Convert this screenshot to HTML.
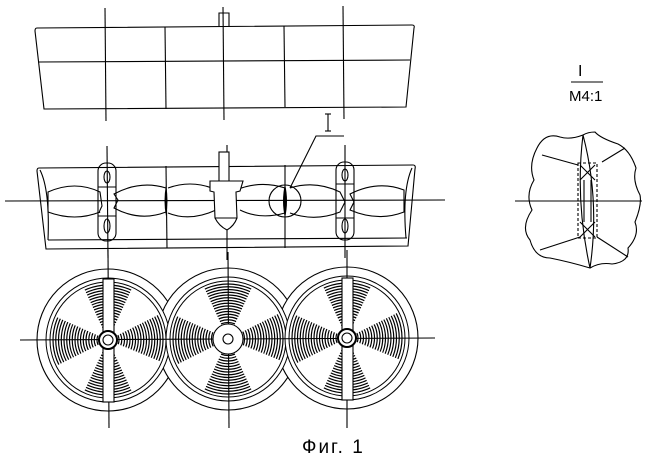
<!DOCTYPE html>
<html><head><meta charset="utf-8"><style>
html,body{margin:0;padding:0;background:#fff;width:646px;height:461px;overflow:hidden}
svg{display:block}
text{font-family:"Liberation Sans",sans-serif;fill:#000}
</style></head><body>
<svg width="646" height="461" viewBox="0 0 646 461" xmlns="http://www.w3.org/2000/svg">
<defs>
<g id="rings" fill="none" stroke="#000" stroke-width="1.2">
<circle r="11"/><circle r="13.75"/><circle r="16.5"/><circle r="19.25"/><circle r="22"/><circle r="24.75"/><circle r="27.5"/><circle r="30.25"/><circle r="33"/><circle r="35.75"/><circle r="38.5"/><circle r="41.25"/><circle r="44"/><circle r="46.75"/><circle r="49.5"/><circle r="52.25"/><circle r="55"/>
</g>
<clipPath id="blades">
<path d="M0 0 L-26 -56 L26 -56 Z"/>
<path d="M0 0 L-26 56 L26 56 Z"/>
<path d="M0 0 L56 -28 L56 23 Z"/>
<path d="M0 0 L-56 -25 L-56 28 Z"/>
</clipPath>
<g id="wheelbase">
<circle r="62" fill="#fff" stroke="#000" stroke-width="1"/>
<circle r="58" fill="none" stroke="#000" stroke-width="1"/>
<g clip-path="url(#blades)"><use href="#rings"/></g>
</g>
</defs>
<g fill="none" stroke="#000" stroke-width="1.1">
<path d="M37 28 L412 25 Q415 25 414 28 L406 107 L44 109 L35 31 Q35 28 37 28 Z"/>
<line x1="38" y1="62" x2="410" y2="60"/>
<line x1="105" y1="8" x2="106" y2="121"/>
<line x1="165" y1="27" x2="166" y2="109"/>
<line x1="223" y1="7" x2="224" y2="120"/>
<line x1="284" y1="26" x2="285" y2="107"/>
<line x1="343" y1="6" x2="344" y2="119"/>
<path d="M219 26 L219 13 L229 13 L229 26"/>
<line x1="328" y1="114" x2="328" y2="131"/><line x1="325" y1="114" x2="331" y2="114"/><line x1="325" y1="131" x2="331" y2="131"/>
<path d="M344 136 L316 136 L290 188"/>
<path d="M39 168 L413 165 Q416 165 415 169 L408 246 L46 249 L37 171 Q37 168 39 168 Z"/>
<line x1="48" y1="240" x2="407" y2="238"/>
<path d="M40 170 Q50 190 48 240"/><path d="M412 168 Q402 190 406 238"/>
<line x1="5" y1="201" x2="445" y2="200"/>
<line x1="107" y1="146" x2="108" y2="258"/>
<line x1="166" y1="166" x2="167" y2="248"/>
<line x1="227" y1="145" x2="227" y2="260"/>
<line x1="285" y1="165" x2="285" y2="248"/>
<line x1="345" y1="145" x2="345" y2="258"/>
<path d="M48 192 Q75 180 100 192 L102 206 Q98 214 100 212 Q75 222 48 212 Z"/>
<path d="M114 194 Q140 180 166 188 L166 212 Q140 222 114 208 L118 200 Z"/>
<path d="M168 188 Q190 180 212 188 M168 213 Q190 222 216 210"/>
<path d="M236 190 Q260 180 285 188 L285 213 Q260 220 240 210"/>
<path d="M290 188 Q315 180 340 192 L345 202 L340 212 Q315 222 290 213"/>
<path d="M350 194 Q378 180 404 190 L404 212 Q378 222 350 210 L354 202 Z"/>
<rect x="98" y="163" width="18" height="78" rx="8"/>
<ellipse cx="107" cy="177" rx="3" ry="6"/><ellipse cx="107" cy="226" rx="3" ry="7"/>
<line x1="98" y1="187" x2="116" y2="187"/><line x1="98" y1="216" x2="116" y2="216"/>
<rect x="336" y="162" width="18" height="78" rx="8"/>
<ellipse cx="345" cy="175" rx="3" ry="6"/><ellipse cx="345" cy="226" rx="3" ry="7"/>
<line x1="336" y1="184" x2="354" y2="184"/><line x1="336" y1="218" x2="354" y2="218"/>
<rect x="219" y="152" width="10" height="30" fill="#fff"/>
<path d="M210 181 L243 181 L240 191 L236 192 L237 218 Q234 226 227 230 Q219 226 215 218 L214 192 L210 191 Z" fill="#fff"/>
<line x1="215" y1="218" x2="237" y2="218"/>
<circle cx="285" cy="201" r="16"/>
</g>
<g fill="#000">
<path d="M166 185 Q169 201 166 216 Q163 201 166 185Z"/>
<path d="M285 184 Q289 201 285 218 Q281 201 285 184Z"/>
</g>
<g fill="#fff" stroke="#000" stroke-width="1.1">
<circle cx="108" cy="340" r="71"/><circle cx="228" cy="339" r="71"/><circle cx="347" cy="338" r="71"/>
</g>
<use href="#wheelbase" x="108" y="340"/>
<use href="#wheelbase" x="228" y="339"/>
<use href="#wheelbase" x="347" y="338"/>
<g fill="none" stroke="#000" stroke-width="1.1">
<line x1="20" y1="340" x2="435" y2="338"/>
<line x1="108" y1="250" x2="109" y2="428"/>
<line x1="228" y1="252" x2="229" y2="428"/>
<line x1="347" y1="250" x2="347" y2="428"/>
<rect x="103" y="279" width="11" height="123" fill="#fff"/>
<rect x="342" y="278" width="11" height="122" fill="#fff"/>
<circle cx="108" cy="340" r="9" fill="#fff" stroke-width="2"/><circle cx="108" cy="340" r="5"/>
<circle cx="347" cy="338" r="9" fill="#fff" stroke-width="2"/><circle cx="347" cy="338" r="5"/>
<circle cx="228" cy="339" r="15" fill="#fff"/><circle cx="228" cy="339" r="5"/>
<line x1="571" y1="82" x2="603" y2="82"/>
<path d="M583 135 Q570 140 560 137 Q545 132 537 148 Q528 165 534 180 Q525 195 532 210 Q520 228 530 240 Q535 258 550 258 Q570 262 590 268 Q600 262 612 264 Q630 262 628 248 Q640 235 635 222 Q642 205 640 195 Q632 180 636 168 Q630 150 618 144 Q600 138 595 132 Q588 132 583 135 Z"/>
<line x1="515" y1="201" x2="642" y2="201"/>
<path d="M583 135 Q575 200 590 268 Q600 200 583 135 Z"/>
<line x1="542" y1="155" x2="578" y2="165"/><line x1="602" y1="162" x2="625" y2="148"/>
<line x1="540" y1="250" x2="580" y2="237"/><line x1="597" y1="237" x2="628" y2="257"/>
<rect x="578" y="163" width="19" height="75" stroke-dasharray="3 2"/>
<path d="M580 165 L595 180 M595 165 L580 180 M580 237 L595 222 M595 237 L580 222"/>
<path d="M584 180 L584 222 M591 180 L591 222"/>
</g>
<text x="578" y="76" font-size="16">I</text>
<text x="569" y="101" font-size="15">M4:1</text>
<text x="302" y="453" font-size="19" letter-spacing="2">Фиг. 1</text>
</svg>
</body></html>
